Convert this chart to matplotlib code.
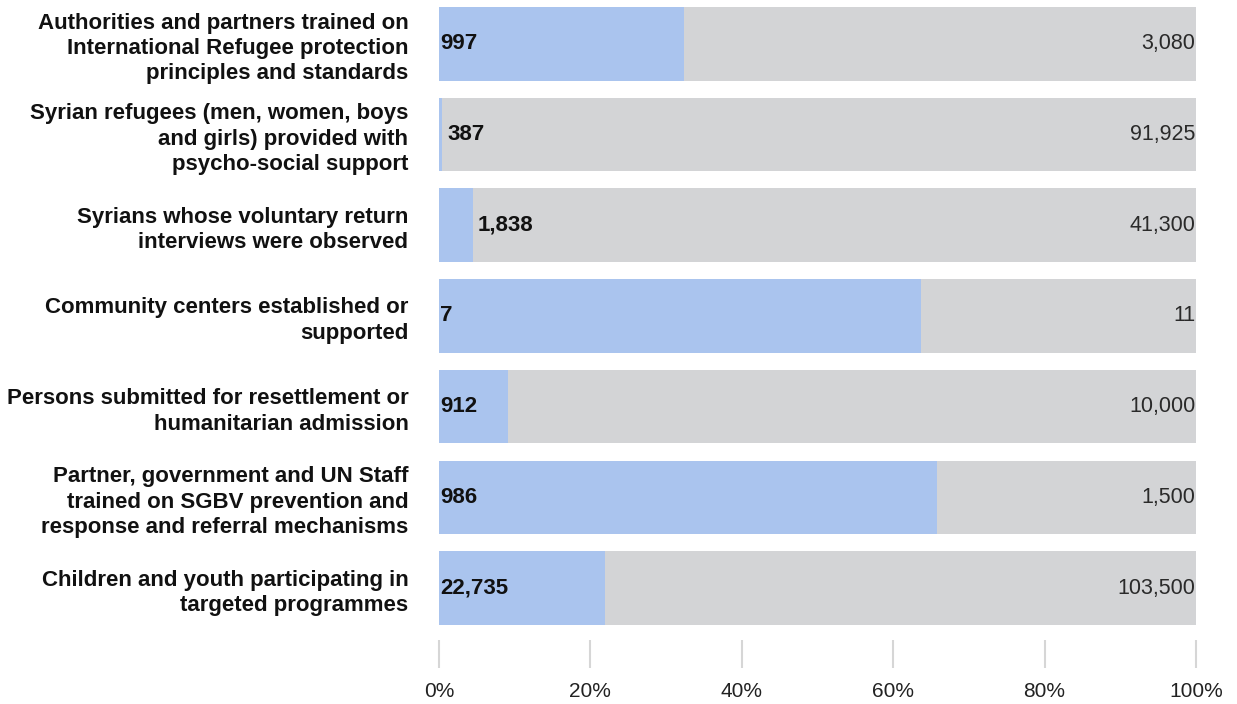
import matplotlib
matplotlib.use("Agg")
from matplotlib import pyplot as plt

categories = [
    "Authorities and partners trained on\nInternational Refugee protection\nprinciples and standards",
    "Syrian refugees (men, women, boys\nand girls) provided with\npsycho-social support",
    "Syrians whose voluntary return\ninterviews were observed",
    "Community centers established or\nsupported",
    "Persons submitted for resettlement or\nhumanitarian admission",
    "Partner, government and UN Staff\ntrained on SGBV prevention and\nresponse and referral mechanisms",
    "Children and youth participating in\ntargeted programmes",
]
achieved = [997, 387, 1838, 7, 912, 986, 22735]
targets = [3080, 91925, 41300, 11, 10000, 1500, 103500]
pct_ticks = [0, 20, 40, 60, 80, 100]

BLUE = "#aac4ee"
GREY = "#d3d4d6"

plt.rcParams['font.family'] = ['Liberation Sans', 'DejaVu Sans']

W, H = 1237, 704
fig = plt.figure(figsize=(W / 100, H / 100), dpi=100)
left, right, top, bottom = 439, 1196, 7, 668
ax = fig.add_axes([left / W, 1 - bottom / H, (right - left) / W, (bottom - top) / H])

bar_h = 0.81
pcts = [a / t * 100 for a, t in zip(achieved, targets)]
ys = list(range(len(categories)))

ax.barh(ys, [100] * len(ys), height=bar_h, color=GREY, linewidth=0)
ax.barh(ys, pcts, height=bar_h, color=BLUE, linewidth=0)

for y, a, t, p in zip(ys, achieved, targets, pcts):
    # short bars get their value just past the end of the blue part
    x = 0.1 if p > 8 else p + 0.7
    ax.text(x, y, f"{a:,}", ha="left", va="center", fontsize=16,
            fontweight="bold", color="#111111")
    ax.text(99.9, y, f"{t:,}", ha="right", va="center", fontsize=15.5,
            color="#2a2a2a")

ax.set_xlim(0, 100)
# keep room below the last bar for the tick marks
ax.set_ylim(6 + bar_h / 2 + (bottom - 625) / 90.7, -bar_h / 2)

ax.set_yticks(ys)
ax.set_yticklabels(categories, fontsize=16, fontweight="bold", color="#111111",
                   linespacing=1.28)
ax.tick_params(axis="y", length=0, pad=22)

ax.set_xticks(pct_ticks)
ax.set_xticklabels([f"{v}%" for v in pct_ticks], fontsize=15, color="#222222")
ax.tick_params(axis="x", direction="in", length=20, width=1.5, color="#d6d6d6", pad=10)

for s in ax.spines.values():
    s.set_visible(False)

fig.savefig("out.png", dpi=100)
